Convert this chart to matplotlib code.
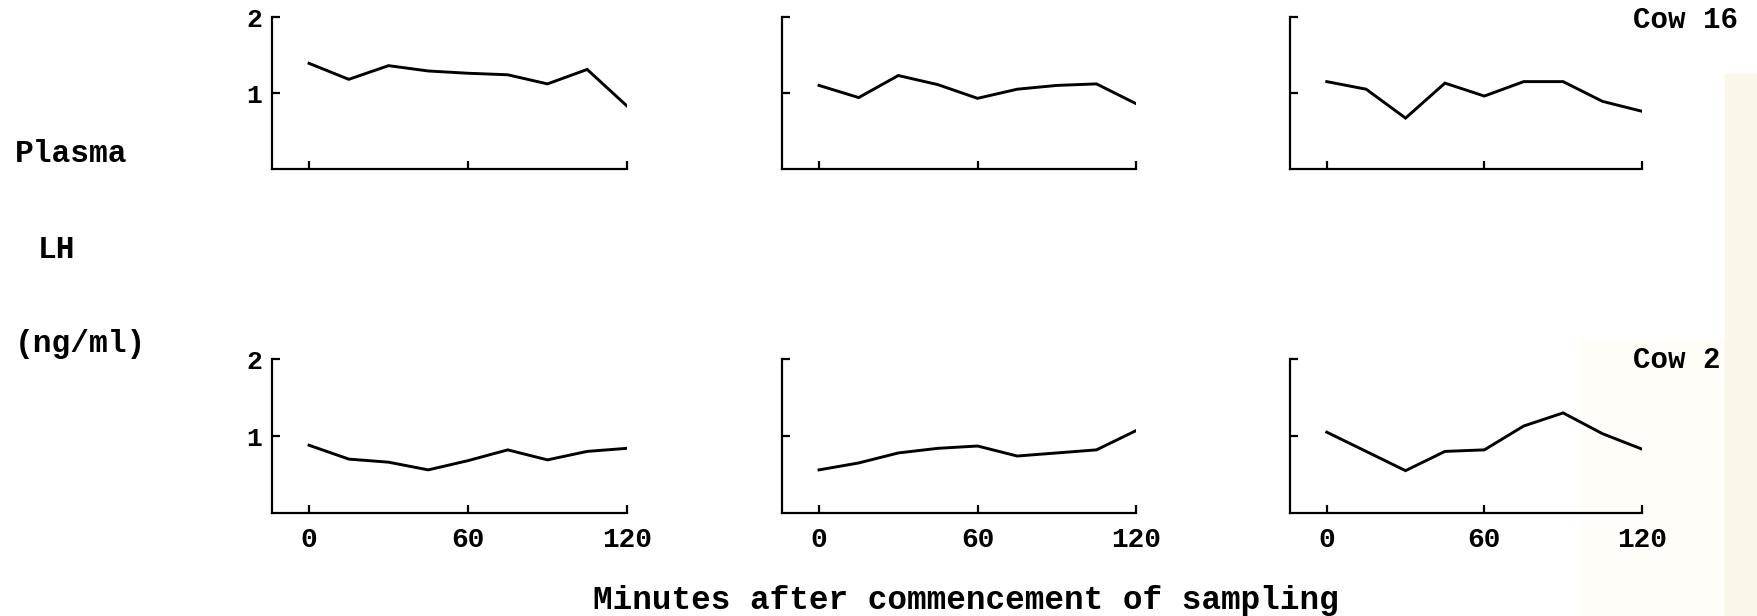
#!/usr/bin/env python3
"""
Plasma LH profiles of two cows over a 120 minute sampling window,
three sampling periods per cow.
"""

import matplotlib.pyplot as plt
from matplotlib.patches import Rectangle

# Sampling times (minutes after start)
minutes = [0, 15, 30, 45, 60, 75, 90, 105, 120]

# Plasma LH (ng/ml), cow 16, three sampling periods
cow16_p1 = [1.39, 1.18, 1.36, 1.29, 1.26, 1.24, 1.12, 1.31, 0.83]
cow16_p2 = [1.10, 0.94, 1.23, 1.11, 0.93, 1.05, 1.10, 1.12, 0.86]
cow16_p3 = [1.15, 1.05, 0.67, 1.13, 0.96, 1.15, 1.15, 0.89, 0.76]

# Plasma LH (ng/ml), cow 2, three sampling periods
cow2_p1 = [0.88, 0.70, 0.66, 0.56, 0.68, 0.82, 0.69, 0.80, 0.84]
cow2_p2 = [0.56, 0.65, 0.78, 0.84, 0.87, 0.74, 0.78, 0.82, 1.07]
cow2_p3 = [1.05, 0.80, 0.55, 0.80, 0.82, 1.13, 1.30, 1.03, 0.83]

x_ticks = [0, 60, 120]
y_ticks = [1, 2]

rows = [
    ("Cow 16", [cow16_p1, cow16_p2, cow16_p3]),
    ("Cow 2", [cow2_p1, cow2_p2, cow2_p3]),
]

FONT = "Liberation Mono"

fig = plt.figure(figsize=(17.57, 6.16), dpi=100)

# scanned paper tint along the right edge
fig.patches.append(Rectangle((0.90, 0.0), 0.10, 0.45, transform=fig.transFigure,
                             color="#fefdf8", zorder=-2))
fig.patches.append(Rectangle((0.982, 0.0), 0.018, 0.88, transform=fig.transFigure,
                             color="#faf7ea", zorder=-1))

col_left = [0.1548, 0.4451, 0.7342]
col_width = [0.2020, 0.2015, 0.2003]
row_bottom = [0.7256, 0.1672]
row_height = [0.2468, 0.2500]

for r, (cow, series) in enumerate(rows):
    for c, values in enumerate(series):
        ax = fig.add_axes([col_left[c], row_bottom[r], col_width[c], row_height[r]])
        ax.patch.set_alpha(0)
        ax.plot(minutes, values, color="black", linewidth=2.1, solid_joinstyle="miter")

        ax.set_xlim(-14, 120)
        ax.set_ylim(0, 2)
        ax.set_xticks(x_ticks)
        ax.set_yticks(y_ticks)

        for side in ("top", "right"):
            ax.spines[side].set_visible(False)
        for side in ("left", "bottom"):
            ax.spines[side].set_linewidth(1.6)

        ax.tick_params(direction="in", length=6, width=1.6, color="black")
        ax.tick_params(axis="y", pad=7)
        ax.tick_params(axis="x", pad=10)

        if c == 0:
            ax.set_yticklabels([str(t) for t in y_ticks], fontsize=19,
                               fontfamily=FONT, fontweight="bold")
        else:
            ax.set_yticklabels([])
        if r == 1:
            ax.set_xticklabels([str(t) for t in x_ticks], fontsize=20,
                               fontfamily=FONT, fontweight="bold")
        else:
            ax.set_xticklabels([])

    # cow label at the top right of each row
    fig.text(1633 / 1757, [0.9545, 0.403][r], cow, fontsize=21,
             fontfamily=FONT, fontweight="bold", ha="left", va="baseline")

# y-axis caption, stacked at the left
fig.text(15 / 1757, 0.737, "Plasma", fontsize=22.5, fontfamily=FONT,
         fontweight="bold", ha="left", va="baseline")
fig.text(38 / 1757, 0.581, "LH", fontsize=22.5, fontfamily=FONT,
         fontweight="bold", ha="left", va="baseline")
fig.text(15 / 1757, 0.429, "(ng/ml)", fontsize=22.5, fontfamily=FONT,
         fontweight="bold", ha="left", va="baseline")

fig.text(966 / 1757, 0.0114, "Minutes after commencement of sampling", fontsize=23.5,
         fontfamily=FONT, fontweight="bold", ha="center", va="baseline")

fig.savefig("out.png", dpi=100)
plt.close(fig)
